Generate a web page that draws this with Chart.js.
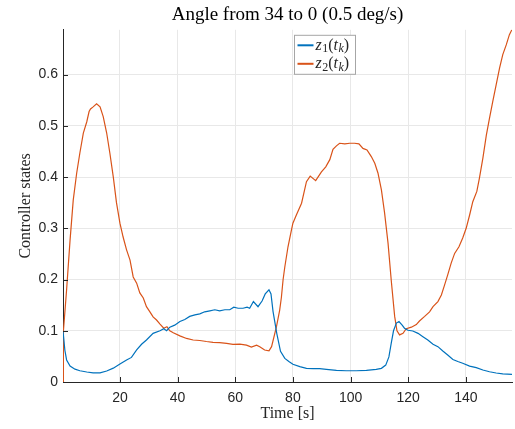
<!DOCTYPE html>
<html>
<head>
<meta charset="utf-8">
<script src="https://cdn.jsdelivr.net/npm/chart.js@4.4.1/dist/chart.umd.min.js"></script>
<style>
  html, body { margin: 0; padding: 0; background: #fff; }
  #chart { display: block; }
</style>
</head>
<body>
<canvas id="chart" width="515" height="429"></canvas>
<script>
// controller state z1 (blue)
const z1Time = [0.25, 0.9, 1.5, 2.7, 4.4, 6.1, 8.5, 10.7, 13.1, 15.4, 17.7, 20, 22.3, 24, 25.8, 27.5, 29.2, 31.5, 33.9, 35.2, 36.2, 37.3, 39, 40.8, 42.5, 44.2, 46, 47.7, 49.4, 51.2, 52.9, 54.6, 56.4, 58.1, 59.5, 61, 62.7, 64.1, 65, 66.3, 67.9, 69.3, 70.4, 71.7, 72.4, 73.1, 74.4, 75.7, 77.2, 78.6, 80, 82.4, 84.7, 87, 89.3, 91.6, 95.1, 98.5, 102, 105.5, 108.9, 110.7, 112.2, 113.3, 114.1, 114.9, 115.9, 116.8, 117.9, 118.7, 119.9, 121.6, 123.4, 125.1, 126.8, 128.6, 130.3, 132, 133.7, 135.5, 137.2, 138.9, 141.3, 143.6, 145.9, 148.2, 150.5, 152.8, 156];
const z1Values = [0.1, 0.062, 0.043, 0.031, 0.025, 0.022, 0.0195, 0.018, 0.018, 0.0215, 0.027, 0.035, 0.043, 0.048, 0.0625, 0.0736, 0.082, 0.095, 0.1, 0.104, 0.1, 0.107, 0.111, 0.118, 0.122, 0.128, 0.131, 0.133, 0.137, 0.139, 0.141, 0.139, 0.141, 0.141, 0.146, 0.144, 0.144, 0.146, 0.144, 0.157, 0.147, 0.158, 0.172, 0.18, 0.172, 0.138, 0.095, 0.06, 0.046, 0.04, 0.0345, 0.03, 0.0267, 0.026, 0.026, 0.0248, 0.0228, 0.022, 0.022, 0.0228, 0.0248, 0.0267, 0.033, 0.049, 0.0755, 0.1, 0.115, 0.118, 0.111, 0.105, 0.101, 0.0996, 0.095, 0.0885, 0.082, 0.0736, 0.069, 0.0606, 0.0527, 0.044, 0.04, 0.0365, 0.031, 0.028, 0.0234, 0.02, 0.0176, 0.016, 0.015];

// controller state z2 (orange)
const z2Time = [0.25, 0.4, 1.5, 2.7, 3.8, 5.0, 6.1, 7.3, 8.5, 9.3, 9.8, 10.7, 11.9, 13.1, 14.2, 15.4, 16.5, 17.7, 18.8, 20.0, 21.1, 22.3, 23.5, 24.6, 25.8, 26.9, 28.1, 29.2, 30.4, 31.5, 32.7, 33.9, 35.2, 36.3, 37.3, 38.5, 40.8, 43.1, 45.4, 47.7, 50, 52.3, 54.6, 57, 59.2, 61.6, 63.9, 65.6, 67.4, 68.5, 70.2, 71.7, 72.6, 74.3, 75.4, 76.0, 76.6, 77.2, 78.3, 79.5, 80, 81.2, 83, 84.7, 86, 87.9, 89.9, 91.4, 92.8, 93.9, 95.1, 96.2, 98, 99.7, 101.4, 102.9, 104.3, 105.7, 107.2, 108.4, 109.5, 110.7, 111.8, 113, 114.1, 115.3, 116.1, 117, 118.2, 119.3, 121.1, 122.8, 123.9, 125.7, 127.4, 128.6, 130.3, 131.5, 132.6, 133.7, 134.9, 136.1, 137.6, 138.9, 140.1, 141.3, 142.4, 143.8, 144.7, 145.9, 147.1, 148.2, 149.3, 150.5, 151.7, 152.8, 154, 155.1, 156];
const z2Values = [0, 0.1, 0.18, 0.277, 0.355, 0.408, 0.447, 0.486, 0.508, 0.528, 0.533, 0.537, 0.543, 0.537, 0.518, 0.486, 0.447, 0.4, 0.35, 0.31, 0.283, 0.258, 0.238, 0.205, 0.193, 0.174, 0.164, 0.147, 0.137, 0.127, 0.121, 0.113, 0.105, 0.108, 0.1, 0.096, 0.09, 0.085, 0.082, 0.081, 0.079, 0.0775, 0.077, 0.0755, 0.0736, 0.074, 0.072, 0.068, 0.072, 0.069, 0.0625, 0.061, 0.069, 0.108, 0.14, 0.165, 0.2, 0.225, 0.264, 0.297, 0.31, 0.326, 0.349, 0.391, 0.402, 0.393, 0.41, 0.42, 0.434, 0.454, 0.461, 0.466, 0.465, 0.466, 0.466, 0.465, 0.456, 0.453, 0.44, 0.427, 0.408, 0.375, 0.33, 0.271, 0.199, 0.128, 0.1, 0.092, 0.095, 0.104, 0.107, 0.112, 0.119, 0.128, 0.137, 0.147, 0.157, 0.17, 0.189, 0.209, 0.232, 0.251, 0.264, 0.281, 0.3, 0.326, 0.352, 0.372, 0.398, 0.437, 0.482, 0.515, 0.547, 0.58, 0.613, 0.639, 0.658, 0.678, 0.688];

const seriesLabels = ['z_1(t_k)', 'z_2(t_k)'];
const xTickValues = [20, 40, 60, 80, 100, 120, 140];
const yTickValues = [0, 0.1, 0.2, 0.3, 0.4, 0.5, 0.6];

const axisColor = '#262626';
const serif = '"Liberation Serif", "Times New Roman", serif';
const sans = '"Liberation Sans", Arial, sans-serif';

const toPoints = (ts, vs) => ts.map((t, i) => ({ x: t, y: vs[i] }));

// MATLAB style ticks that point into the plot
const inwardTicks = {
    id: 'inwardTicks',
    afterDraw(chart) {
        const { ctx, chartArea, scales } = chart;
        ctx.save();
        ctx.strokeStyle = axisColor;
        ctx.lineWidth = 1;
        ctx.beginPath();
        xTickValues.forEach(v => {
            const x = Math.round(scales.x.getPixelForValue(v)) + 0.5;
            ctx.moveTo(x, chartArea.bottom);
            ctx.lineTo(x, chartArea.bottom - 5);
        });
        yTickValues.forEach(v => {
            const y = Math.round(scales.y.getPixelForValue(v)) + 0.5;
            ctx.moveTo(chartArea.left, y);
            ctx.lineTo(chartArea.left + 5, y);
        });
        ctx.stroke();
        ctx.restore();
    }
};

// draws a label like 'z_1(t_k)' with subscripts
function drawMathLabel(ctx, text, x, y) {
    let cx = x;
    for (let i = 0; i < text.length; i++) {
        let ch = text[i];
        let sub = false;
        if (ch === '_') { sub = true; ch = text[++i]; }
        const italic = /[a-z]/i.test(ch) ? 'italic ' : '';
        ctx.font = italic + (sub ? '12px ' : '16px ') + serif;
        ctx.fillText(ch, cx, sub ? y + 4 : y);
        cx += ctx.measureText(ch).width + (italic && !sub ? 0.5 : 0);
    }
}

const mathLegend = {
    id: 'mathLegend',
    afterDraw(chart) {
        const { ctx, chartArea } = chart;
        const bx = chartArea.left + 231.5, by = chartArea.top + 5.5, bw = 61, bh = 39;
        ctx.save();
        ctx.fillStyle = '#fff';
        ctx.fillRect(bx, by, bw, bh);
        ctx.strokeStyle = '#a6a6a6';
        ctx.lineWidth = 1;
        ctx.strokeRect(bx, by, bw, bh);
        chart.data.datasets.forEach((ds, i) => {
            const y = by + 10 + i * 18.5;
            ctx.strokeStyle = ds.borderColor;
            ctx.lineWidth = 2;
            ctx.beginPath();
            ctx.moveTo(bx + 3, y);
            ctx.lineTo(bx + 19, y);
            ctx.stroke();
            ctx.fillStyle = axisColor;
            ctx.textBaseline = 'middle';
            drawMathLabel(ctx, ds.label, bx + 21, y);
        });
        ctx.restore();
    }
};

new Chart(document.getElementById('chart'), {
    type: 'line',
    data: {
        datasets: [
            {
                label: seriesLabels[0],
                data: toPoints(z1Time, z1Values),
                borderColor: '#0072BD',
                borderWidth: 1.2,
                pointRadius: 0,
                tension: 0,
                fill: false
            },
            {
                label: seriesLabels[1],
                data: toPoints(z2Time, z2Values),
                borderColor: '#D95319',
                borderWidth: 1.2,
                pointRadius: 0,
                tension: 0,
                fill: false
            }
        ]
    },
    options: {
        responsive: false,
        animation: false,
        layout: { padding: { left: 0, right: 3, top: 0, bottom: 0 } },
        plugins: {
            legend: { display: false },
            tooltip: { enabled: false },
            title: {
                display: true,
                fullSize: false,
                text: 'Angle from 34 to 0 (0.5 deg/s)',
                color: '#000',
                font: { family: serif, size: 19, weight: 'normal' },
                padding: { top: 4, bottom: 3 }
            }
        },
        scales: {
            x: {
                type: 'linear',
                min: 0.25,
                max: 156,
                afterBuildTicks: s => { s.ticks = xTickValues.map(v => ({ value: v })); },
                afterFit: s => { s.height = 47; },
                ticks: {
                    color: axisColor,
                    font: { family: sans, size: 14 },
                    padding: 8,
                    maxRotation: 0
                },
                grid: { color: '#e8e8e8', drawTicks: false },
                border: { color: axisColor, width: 1 },
                title: {
                    display: true,
                    text: 'Time [s]',
                    color: axisColor,
                    font: { family: serif, size: 16 },
                    padding: { top: 0, bottom: 6 }
                }
            },
            y: {
                type: 'linear',
                min: 0,
                max: 0.6875,
                afterBuildTicks: s => { s.ticks = yTickValues.map(v => ({ value: v })); },
                afterFit: s => { s.width = 63; },
                ticks: {
                    color: axisColor,
                    font: { family: sans, size: 14 },
                    padding: 5,
                    callback: v => v === 0 ? '0' : v.toFixed(1)
                },
                grid: { color: '#e8e8e8', drawTicks: false },
                border: { color: axisColor, width: 1 },
                title: {
                    display: true,
                    text: 'Controller states',
                    color: axisColor,
                    font: { family: serif, size: 16 },
                    padding: { top: 16, bottom: 0 }
                }
            }
        }
    },
    plugins: [inwardTicks, mathLegend]
});
</script>
</body>
</html>
